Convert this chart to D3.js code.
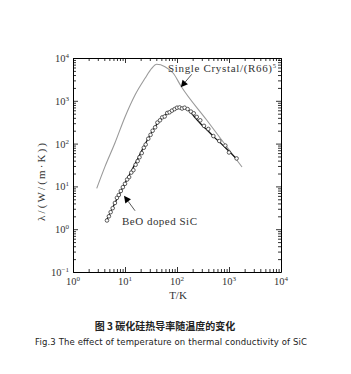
<!DOCTYPE html>
<html>
<head>
<meta charset="utf-8">
<script src="https://cdn.jsdelivr.net/npm/d3@7"></script>
<style>
  body { margin: 0; background: #fff; }
  svg { display: block; }
</style>
</head>
<body>
<div id="chart"></div>
<script>
// single crystal curve (gray)
const crystalT = [2.86, 4.12, 6.43, 10, 15.6, 24.3, 32.6, 40.7, 58.7, 84.9, 119, 372, 1780];
const crystalL = [9.0, 29, 105, 420, 1370, 3360, 5740, 7130, 6270, 4400, 2220, 356, 28.4];

// BeO doped SiC fitted line
const beoFitT = [4.47, 5.62, 7.08, 8.91, 11.2, 14.1, 17.8, 22.4, 28.2, 35.5, 44.7, 56.2, 70.8,
                 89.1, 112, 141, 178, 224, 282, 355, 447, 562, 708, 891, 1122, 1380];
const beoFitL = [1.66, 2.95, 5.25, 9.12, 15.5, 26.3, 45.7, 79.4, 135, 219, 324, 437, 550,
                 631, 692, 676, 562, 398, 295, 224, 170, 129, 100, 75.9, 57.5, 44.7];

// BeO doped SiC measured points
const beoT = [4.5, 4.9, 5.3, 5.8, 6.4, 7.0, 7.6, 8.3, 9.1, 10, 11, 12, 13.2, 14.5, 16, 17.5, 19, 21,
              23, 25, 28, 31, 34, 38, 42, 47, 52, 58, 65, 72, 80, 90, 100, 112, 125, 140, 160,
              185, 210, 240, 280, 330, 400, 500, 650, 850, 1000, 1400];
const beoL = [1.6, 2.0, 2.5, 3.1, 4.1, 5.4, 6.3, 7.8, 9.6, 11.5, 14.5, 16.5, 21, 24, 32, 39, 48, 60,
              80, 95, 130, 160, 200, 240, 310, 350, 410, 430, 520, 540, 590, 640, 690, 700, 660, 690, 640,
              560, 510, 420, 350, 260, 220, 150, 115, 90, 62, 45];

const xMajor = [1, 10, 100, 1000, 10000];
const yMajor = [0.1, 1, 10, 100, 1000, 10000];
const xExp = ["0", "1", "2", "3", "4"];
const yExp = ["\u22121", "0", "1", "2", "3", "4"];

const W = 351, H = 374;
const mLeft = 73, mRight = 281, mTop = 58, mBottom = 272;
const serif = "'Liberation Serif', 'DejaVu Serif', serif";

const x = d3.scaleLog().domain([1, 1e4]).range([mLeft, mRight]);
const y = d3.scaleLog().domain([0.1, 1e4]).range([mBottom, mTop]);

const isMajor = v => Math.abs(Math.log10(v) - Math.round(Math.log10(v))) < 1e-9;

const svg = d3.select("#chart").append("svg")
    .attr("width", W).attr("height", H);

// axes on all four sides, ticks pointing in
const axisStyle = function (g) {
    g.selectAll("path.domain").attr("stroke", "#000").attr("stroke-width", 1);
    g.selectAll(".tick line").attr("stroke", "#000").attr("stroke-width", 0.8);
    g.selectAll(".tick text").remove();
};

svg.append("g").attr("transform", `translate(0,${mBottom})`)
    .call(d3.axisBottom(x).tickValues(x.ticks()).tickSizeOuter(0))
    .call(axisStyle)
    .selectAll(".tick line").attr("y2", d => isMajor(d) ? -5 : -3);

svg.append("g").attr("transform", `translate(0,${mTop})`)
    .call(d3.axisTop(x).tickValues(x.ticks()).tickSizeOuter(0))
    .call(axisStyle)
    .selectAll(".tick line").attr("y2", d => isMajor(d) ? 5 : 3);

svg.append("g").attr("transform", `translate(${mLeft},0)`)
    .call(d3.axisLeft(y).tickValues(y.ticks()).tickSizeOuter(0))
    .call(axisStyle)
    .selectAll(".tick line").attr("x2", d => isMajor(d) ? 5 : 3);

svg.append("g").attr("transform", `translate(${mRight},0)`)
    .call(d3.axisRight(y).tickValues(y.ticks()).tickSizeOuter(0))
    .call(axisStyle)
    .selectAll(".tick line").attr("x2", d => isMajor(d) ? -5 : -3);

// tick labels 10^n
const xl = svg.append("g").attr("font-family", serif).attr("font-size", 10.5).attr("fill", "#333")
    .selectAll("text").data(xMajor).join("text")
    .attr("x", d => x(d)).attr("y", mBottom + 13)
    .attr("text-anchor", "middle");
xl.append("tspan").text("10");
xl.append("tspan").attr("dy", -4).attr("font-size", 7).text((d, i) => xExp[i]);

const yl = svg.append("g").attr("font-family", serif).attr("font-size", 10.5).attr("fill", "#333")
    .selectAll("text").data(yMajor).join("text")
    .attr("x", mLeft - 4).attr("y", d => y(d) + 4)
    .attr("text-anchor", "end");
yl.append("tspan").text("10");
yl.append("tspan").attr("dy", -4).attr("font-size", 7).text((d, i) => yExp[i]);

// axis titles
svg.append("text")
    .attr("x", (mLeft + mRight) / 2 + 1).attr("y", 299)
    .attr("text-anchor", "middle")
    .attr("font-family", serif).attr("font-size", 11).attr("fill", "#333")
    .text("T/K");

svg.append("text")
    .attr("transform", `translate(45,182) rotate(-90)`)
    .attr("text-anchor", "middle")
    .attr("font-family", serif).attr("font-size", 11).attr("fill", "#333")
    .attr("textLength", 78).attr("lengthAdjust", "spacing")
    .text("\u03bb/(W/(m\u00b7K))");

// curves
const line = d3.line()
    .x(d => x(d[0])).y(d => y(d[1]))
    .curve(d3.curveMonotoneX);

svg.append("path")
    .datum(d3.zip(crystalT, crystalL))
    .attr("fill", "none").attr("stroke", "#9a9a9a").attr("stroke-width", 1.1)
    .attr("d", line);

svg.append("path")
    .datum(d3.zip(beoFitT, beoFitL))
    .attr("fill", "none").attr("stroke", "#111").attr("stroke-width", 1.3)
    .attr("d", line);

svg.append("g")
    .selectAll("circle")
    .data(d3.zip(beoT, beoL))
    .join("circle")
    .attr("cx", d => x(d[0]))
    .attr("cy", d => y(d[1]))
    .attr("r", 1.8)
    .attr("fill", "#fff")
    .attr("stroke", "#333")
    .attr("stroke-width", 0.8);

// annotations (positioned in data units)
const arrowHead = function (from, to) {
    const x1 = x(from[0]), y1 = y(from[1]), x2 = x(to[0]), y2 = y(to[1]);
    const a = Math.atan2(y2 - y1, x2 - x1);
    const len = 7, w = 3.5;
    const bx = x2 - len * Math.cos(a), by = y2 - len * Math.sin(a);
    svg.append("line")
        .attr("x1", x1).attr("y1", y1).attr("x2", bx).attr("y2", by)
        .attr("stroke", "#444").attr("stroke-width", 0.9);
    svg.append("path")
        .attr("d", `M${x2},${y2} L${bx - w * Math.sin(a)},${by + w * Math.cos(a)} L${bx + w * Math.sin(a)},${by - w * Math.cos(a)} Z`)
        .attr("fill", "#000");
};

arrowHead([192, 4160], [118, 2065]);
arrowHead([15.6, 2.7], [9.57, 6.07]);

const sc = svg.append("text")
    .attr("x", x(67.1)).attr("y", y(4790))
    .attr("font-family", serif).attr("font-size", 11).attr("fill", "#333");
sc.append("tspan").attr("textLength", 104).attr("lengthAdjust", "spacing").text("Single Crystal/(R66)");
sc.append("tspan").attr("dy", -4).attr("font-size", 6.5).text("5");

svg.append("text")
    .attr("x", x(8.75)).attr("y", y(1.25))
    .attr("font-family", serif).attr("font-size", 11).attr("fill", "#333")
    .attr("textLength", 75).attr("lengthAdjust", "spacing")
    .text("BeO doped SiC");

// captions
svg.append("text")
    .attr("x", 165).attr("y", 330)
    .attr("text-anchor", "middle")
    .attr("font-family", "'Noto Sans CJK SC', sans-serif").attr("font-size", 10)
    .attr("font-weight", "bold").attr("fill", "#222")
    .text("图 3  碳化硅热导率随温度的变化");

svg.append("text")
    .attr("x", 35).attr("y", 345)
    .attr("font-family", "'DejaVu Sans', sans-serif").attr("font-size", 8.5)
    .attr("fill", "#222")
    .attr("textLength", 272).attr("lengthAdjust", "spacing")
    .text("Fig.3 The effect of temperature on thermal conductivity of SiC");
</script>
</body>
</html>
